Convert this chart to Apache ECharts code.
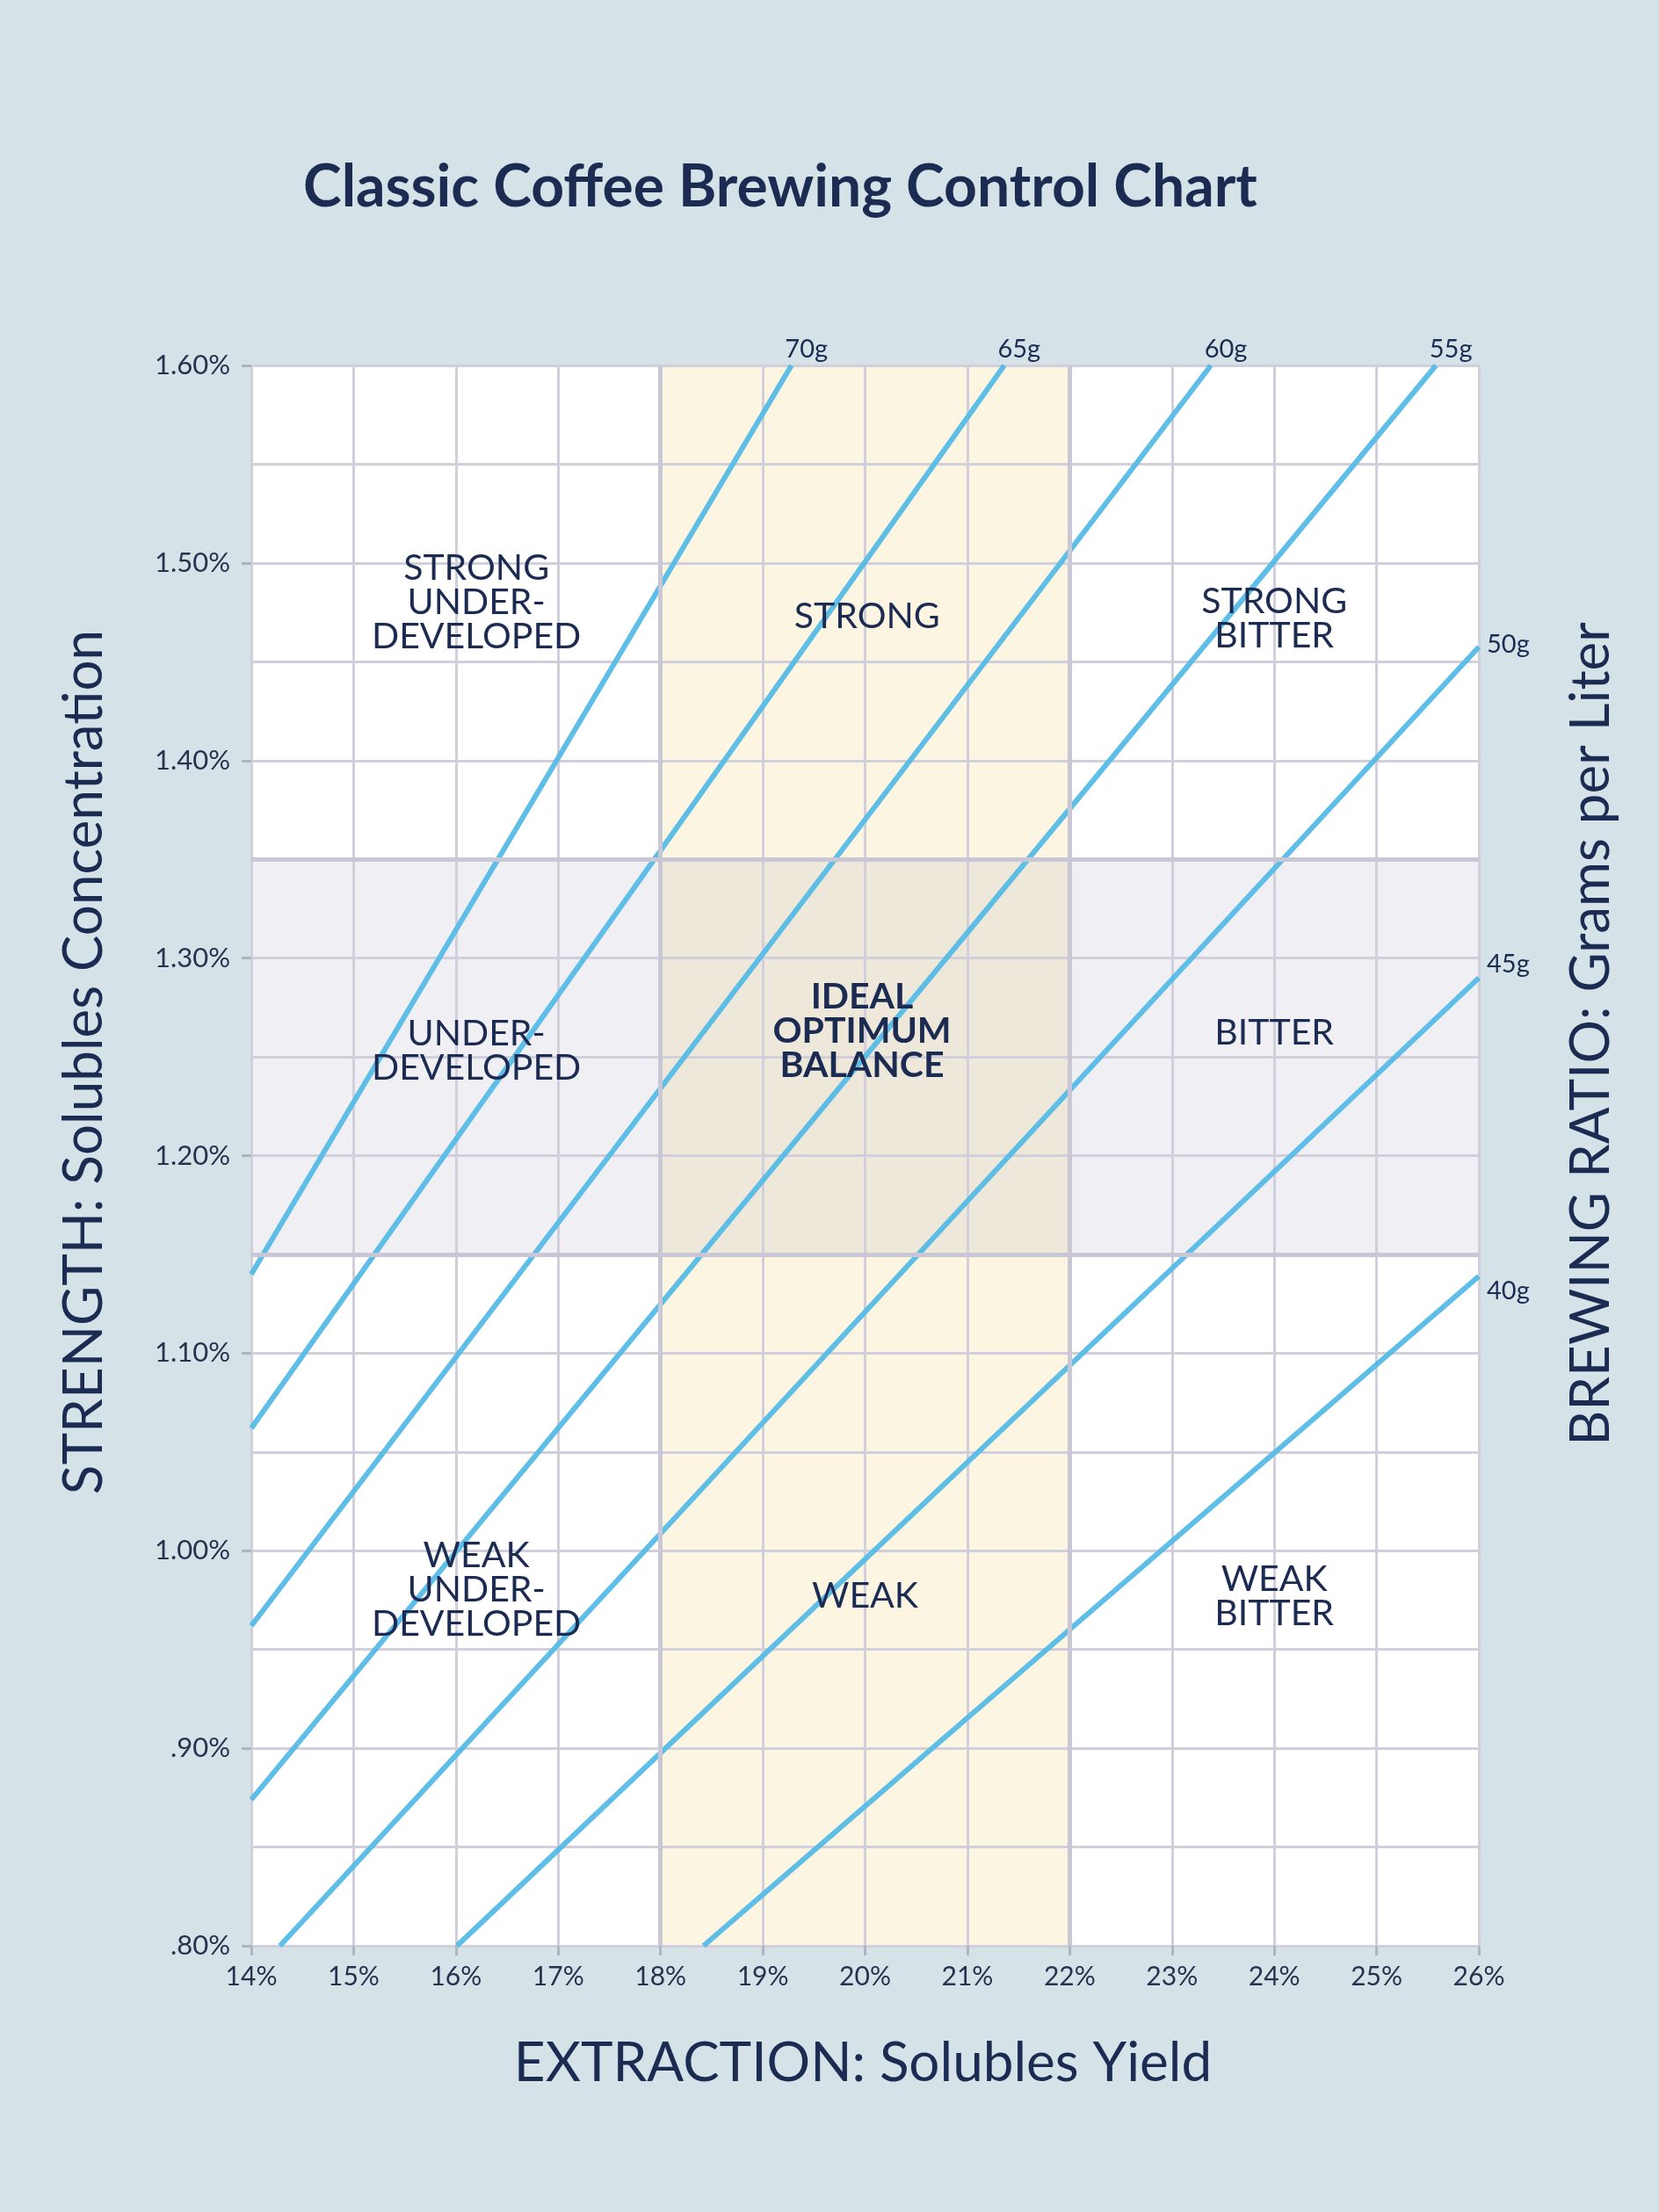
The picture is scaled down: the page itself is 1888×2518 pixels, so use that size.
<!DOCTYPE html>
<html>
<head>
<meta charset="utf-8">
<script src="https://cdn.jsdelivr.net/npm/echarts@6/dist/echarts.min.js"></script>
<style>
html,body{margin:0;padding:0;background:#D5E3E8;}
#chart{width:1888px;height:2518px;}
</style>
</head>
<body>
<div id="chart"></div>
<script>
// ---- data ----
const extractionRange = [14, 26];          // % (x axis)
const strengthRange = [0.80, 1.60];        // % (y axis)
const idealExtraction = [18, 22];
const idealStrength = [1.15, 1.35];

const ratioNames = ['70g', '65g', '60g', '55g', '50g', '45g', '40g'];
const ratioStart = [[14, 1.140], [14, 1.062], [14, 0.962], [14, 0.874], [14.28, 0.80], [16.01, 0.80], [18.42, 0.80]];
const ratioEnd = [[19.28, 1.60], [21.36, 1.60], [23.38, 1.60], [25.58, 1.60], [26, 1.4575], [26, 1.290], [26, 1.139]];

const zoneNames = ['STRONG\nUNDER-\nDEVELOPED', 'STRONG', 'STRONG\nBITTER',
  'UNDER-\nDEVELOPED', 'IDEAL\nOPTIMUM\nBALANCE', 'BITTER',
  'WEAK\nUNDER-\nDEVELOPED', 'WEAK', 'WEAK\nBITTER'];
const zoneX = [16.2, 20.02, 24.0, 16.2, 19.97, 24.0, 16.2, 20.0, 24.0];
const zoneY = [1.480, 1.473, 1.472, 1.253, 1.263, 1.262, 0.980, 0.977, 0.977];
const zoneBold = [false, false, false, false, true, false, false, false, false];

// ---- styles ----
const NAVY = '#1C2B52';
const GRID = '#D2CFDD';
const FONT = 'Lato, "Noto Sans", sans-serif';
const labelPlacement = {
  '70g': {position: 'top', offset: [17, 0], distance: 4},
  '65g': {position: 'top', offset: [17, 0], distance: 4},
  '60g': {position: 'top', offset: [17, 0], distance: 4},
  '55g': {position: 'top', offset: [17, 0], distance: 4},
  '50g': {position: 'right', offset: [0, -3], distance: 9},
  '45g': {position: 'right', offset: [0, -15], distance: 9},
  '40g': {position: 'right', offset: [0, 17], distance: 9}
};

const chart = echarts.init(document.getElementById('chart'), null, {renderer: 'canvas'});

const lineSeries = ratioNames.map((name, i) => ({
  name: name,
  type: 'line',
  z: 4,
  silent: true,
  symbol: 'none',
  showSymbol: false,
  lineStyle: {color: '#55BBE6', width: 6, opacity: 0.95},
  data: [ratioStart[i], ratioEnd[i]],
  markPoint: {
    silent: true,
    symbol: 'circle',
    symbolSize: 0,
    itemStyle: {opacity: 1},
    data: [{coord: ratioEnd[i], value: name}],
    label: Object.assign({
      show: true, formatter: name, color: NAVY, fontFamily: FONT, fontSize: 29
    }, labelPlacement[name]),
    animation: false
  },
  animation: false
}));

const bandSeries = {
  type: 'line',
  z: 1,
  silent: true,
  data: [],
  markArea: {
    silent: true,
    data: [
      [{xAxis: idealExtraction[0], yAxis: strengthRange[0], itemStyle: {color: '#FCF5E1'}}, {xAxis: idealExtraction[1], yAxis: strengthRange[1]}],
      [{xAxis: extractionRange[0], yAxis: idealStrength[0], itemStyle: {color: '#F0EFF4'}}, {xAxis: idealExtraction[0], yAxis: idealStrength[1]}],
      [{xAxis: idealExtraction[1], yAxis: idealStrength[0], itemStyle: {color: '#F0EFF4'}}, {xAxis: extractionRange[1], yAxis: idealStrength[1]}],
      [{xAxis: idealExtraction[0], yAxis: idealStrength[0], itemStyle: {color: '#EEE8DA'}}, {xAxis: idealExtraction[1], yAxis: idealStrength[1]}]
    ]
  },
  animation: false
};

const boundarySeries = {
  type: 'line',
  z: 3,
  silent: true,
  data: [],
  markLine: {
    silent: true,
    symbol: 'none',
    label: {show: false},
    lineStyle: {color: '#C9C7D6', width: 5, type: 'solid'},
    data: [
      {xAxis: idealExtraction[0]}, {xAxis: idealExtraction[1]},
      {yAxis: idealStrength[0]}, {yAxis: idealStrength[1]}
    ],
    animation: false
  },
  animation: false
};

const zoneSeries = {
  type: 'scatter',
  z: 5,
  silent: true,
  symbolSize: 0,
  itemStyle: {opacity: 1},
  data: zoneNames.map((n, i) => ({
    name: n,
    value: [zoneX[i], zoneY[i]],
    label: {fontWeight: zoneBold[i] ? 'bold' : 'normal'}
  })),
  label: {
    show: true, position: 'inside', formatter: '{b}',
    color: NAVY, fontFamily: FONT, fontSize: 41, lineHeight: 39, align: 'center'
  },
  animation: false
};

const option = {
  backgroundColor: '#D5E3E8',
  animation: false,
  grid: {left: 286, top: 416, right: 205, bottom: 303, containLabel: false,
    show: true, backgroundColor: '#FFFFFF', borderWidth: 0},
  xAxis: {
    type: 'value', z: 2,
    min: extractionRange[0], max: extractionRange[1], interval: 1,
    axisLine: {show: false},
    axisTick: {show: true, length: 11, lineStyle: {color: '#AEB4C0', width: 3}},
    axisLabel: {formatter: v => v + '%', color: '#27324F', fontFamily: FONT, fontSize: 30, margin: 20},
    splitLine: {show: true, lineStyle: {color: GRID, width: 3}}
  },
  yAxis: {
    type: 'value', z: 2,
    min: strengthRange[0], max: strengthRange[1], interval: 0.1,
    axisLine: {show: false},
    axisTick: {show: true, length: 11, lineStyle: {color: '#AEB4C0', width: 3}},
    minorTick: {show: false, splitNumber: 2},
    minorSplitLine: {show: true, lineStyle: {color: GRID, width: 3}},
    axisLabel: {
      formatter: v => { const s = v.toFixed(2); return (v < 1 ? s.slice(1) : s) + '%'; },
      color: '#27324F', fontFamily: FONT, fontSize: 31, margin: 24
    },
    splitLine: {show: true, lineStyle: {color: GRID, width: 3}}
  },
  graphic: [
    {type: 'text', x: 345, y: 214, z: 10,
      style: {text: 'Classic Coffee Brewing Control Chart', fill: NAVY, verticalAlign: 'middle',
        font: 'bold 66px Lato, "Noto Sans", sans-serif'}},
    {type: 'text', x: 96, y: 1209, rotation: Math.PI / 2, z: 10,
      style: {text: 'STRENGTH: Solubles Concentration', fill: NAVY, align: 'center', verticalAlign: 'middle',
        font: '62px Lato, "Noto Sans", sans-serif'}},
    {type: 'text', x: 1811, y: 1177, rotation: Math.PI / 2, z: 10,
      style: {text: 'BREWING RATIO: Grams per Liter', fill: NAVY, align: 'center', verticalAlign: 'middle',
        font: '62px Lato, "Noto Sans", sans-serif'}},
    {type: 'text', x: 982, y: 2349, z: 10,
      style: {text: 'EXTRACTION: Solubles Yield', fill: NAVY, align: 'center', verticalAlign: 'middle',
        font: '62px Lato, "Noto Sans", sans-serif'}}
  ],
  series: [bandSeries, boundarySeries].concat(lineSeries, [zoneSeries])
};

chart.setOption(option);
</script>
</body>
</html>
